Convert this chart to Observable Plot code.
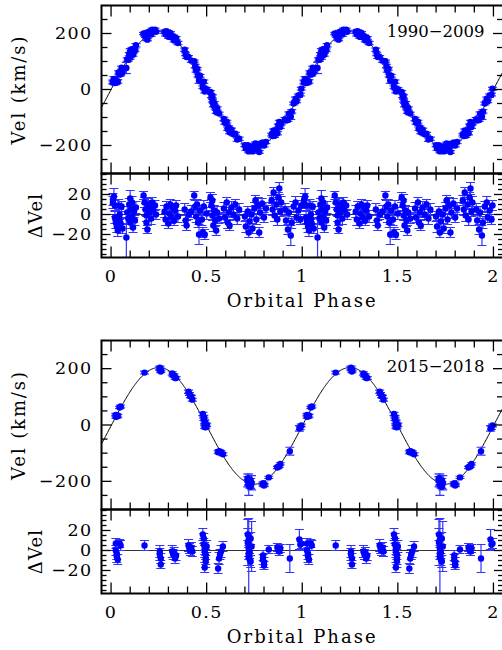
<!DOCTYPE html>
<html>
<head>
<meta charset="utf-8">
<script src="https://cdn.jsdelivr.net/npm/d3@7"></script>
<script src="https://cdn.jsdelivr.net/npm/@observablehq/plot@0.6"></script>
<style>
  html, body { margin: 0; padding: 0; background: #fff; overflow: hidden; width: 502px; height: 650px; }
  #fig { position: relative; width: 504px; height: 650px; }
  #fig svg { position: absolute; left: 0; overflow: visible !important; max-width: none !important; background: transparent !important; }
</style>
</head>
<body>
<div id="fig"></div>
<script>
// ---- 1990-2009 radial velocities: orbital phase, velocity (km/s), residual (km/s), error (km/s)
const phase90 = [
  0.010, 0.010, 0.015, 0.020, 0.020, 0.025, 0.030, 0.035, 0.040, 0.045, 0.045, 0.050, 0.055, 0.060,
  0.080, 0.085, 0.090, 0.095, 0.100, 0.100, 0.105, 0.110, 0.110, 0.115, 0.120, 0.125, 0.130,
  0.170, 0.175, 0.180, 0.185, 0.185, 0.190, 0.195, 0.200, 0.205, 0.210, 0.215, 0.220, 0.230, 0.235,
  0.280, 0.285, 0.290, 0.300, 0.305, 0.310, 0.315, 0.325, 0.330, 0.335, 0.340, 0.350,
  0.385, 0.390, 0.395, 0.405, 0.420, 0.435, 0.440, 0.445, 0.450, 0.455, 0.460, 0.465,
  0.475, 0.480, 0.485, 0.490, 0.500, 0.520, 0.525, 0.530, 0.530, 0.535, 0.540, 0.545, 0.550, 0.555, 0.565,
  0.590, 0.595, 0.605, 0.610, 0.615, 0.620, 0.630, 0.640, 0.650, 0.660, 0.670,
  0.700, 0.705, 0.715, 0.720, 0.725, 0.735, 0.740, 0.750, 0.755, 0.760, 0.770, 0.775, 0.780, 0.790, 0.800, 0.810,
  0.840, 0.845, 0.850, 0.855, 0.865, 0.870, 0.875, 0.880, 0.885, 0.890,
  0.910, 0.915, 0.925, 0.930, 0.940, 0.945, 0.955, 0.965, 0.970, 0.980, 0.990, 0.995
];
const vel90 = [
  28, 25, 38, 35, 23, 24, 27, 29, 61, 53, 58, 55, 78, 62,
  77, 107, 107, 126, 138, 114, 132, 130, 144, 124, 145, 140, 158,
  200, 196, 192, 189, 182, 178, 205, 199, 207, 196, 214, 207, 214, 206,
  206, 197, 208, 188, 196, 202, 187, 190, 175, 182, 184, 166,
  142, 126, 116, 116, 103, 101, 84, 68, 74, 50, 32, 49,
  27, 8, 28, -7, 1, -9, -23, -40, -25, -56, -48, -64, -80, -68, -86,
  -105, -119, -115, -140, -135, -153, -144, -160, -158, -179, -176,
  -199, -211, -199, -221, -212, -206, -221, -201, -193, -212, -196, -223, -201, -190, -200, -187,
  -161, -166, -146, -165, -145, -156, -129, -116, -134, -120,
  -106, -111, -109, -86, -97, -78, -50, -33, -42, -22, -18, 3
];
const dvel90 = [
  15, 12, 18, 9, -3, -8, -12, -16, 9, -5, 0, -9, 8, -14,
  -23, 2, -4, 10, 16, -8, 5, -2, 12, -13, 3, -6, 7,
  19, 12, 5, -1, -8, -15, 10, 2, 8, -4, 12, 4, 9, 0,
  3, -5, 8, -9, 1, 10, -3, 6, -6, 4, 9, -2,
  5, -6, -11, 0, 3, 19, 8, -2, 10, -8, -20, 4,
  -5, -18, 8, -20, 1, 17, 9, -1, 14, -11, 4, -6, -16, 2, -4,
  6, -3, 12, -8, 2, -11, 7, 0, 10, -4, 5,
  -2, -12, 3, -18, -7, 0, -14, 6, 14, -5, 9, -18, 2, 11, -3, 6,
  14, 5, 22, -1, 10, -5, 17, 26, 3, 12,
  5, -6, -15, 2, -21, -8, 8, 12, -3, 4, -5, 9
];
const err90 = [
  6, 6, 8, 5, 6, 6, 6, 6, 6, 5, 5, 6, 5, 5,
  20, 6, 6, 6, 8, 6, 6, 5, 6, 5, 6, 5, 6,
  4, 5, 6, 6, 6, 4, 6, 5, 6, 6, 5, 6, 5, 5,
  6, 6, 5, 5, 6, 5, 6, 5, 5, 6, 5, 6,
  6, 5, 5, 5, 6, 4, 6, 6, 5, 5, 10, 5,
  6, 5, 6, 5, 6, 5, 6, 5, 6, 6, 5, 6, 5, 6, 5,
  6, 5, 5, 6, 5, 5, 6, 5, 5, 6, 6,
  5, 6, 5, 5, 6, 5, 5, 6, 5, 5, 8, 5, 6, 5, 5, 6,
  5, 6, 5, 6, 5, 6, 5, 6, 5, 6,
  6, 5, 5, 6, 10, 6, 5, 6, 5, 6, 5, 5
];

// ---- 2015-2018 radial velocities
const phase15 = [
  0.025, 0.025, 0.030, 0.030, 0.035, 0.045, 0.050,
  0.175,
  0.255, 0.255, 0.260, 0.260,
  0.320, 0.325, 0.330, 0.335, 0.340,
  0.405, 0.410, 0.415, 0.420, 0.425,
  0.480, 0.485, 0.485, 0.490, 0.490, 0.490, 0.495, 0.495, 0.495, 0.500,
  0.560, 0.565, 0.570, 0.575, 0.585,
  0.715, 0.715, 0.720, 0.720, 0.720, 0.720, 0.725, 0.725, 0.730, 0.730, 0.735,
  0.795, 0.795, 0.800, 0.800, 0.825,
  0.870, 0.875, 0.880, 0.885,
  0.935, 0.985, 0.990, 0.995
];
const vel15 = [
  36, 29, 33, 30, 33, 62, 66,
  186,
  203, 200, 196, 190,
  183, 177, 176, 167, 167,
  118, 110, 102, 100, 90,
  39, 29, 22, 12, 9, -7, 0, -4, -8, 1,
  -97, -93, -95, -98, -104,
  -189, -197, -204, -209, -212, -195, -217, -210, -196, -219, -205,
  -207, -211, -212, -215, -186,
  -151, -148, -146, -138,
  -93, -12, -10, -2
];
const dvel15 = [
  7, 0, -3, -6, -9, 7, 5,
  5,
  -1, -4, -8, -14,
  -1, -4, -2, -8, -5,
  5, 2, 0, 3, -1,
  16, 12, 6, 2, -1, -17, -4, -8, -11, 4,
  -18, -8, -4, -1, 4,
  16, 8, 2, -3, -6, 11, -9, -2, 12, -11, 4,
  -5, -9, -12, -15, 1,
  3, 1, -1, 2,
  -8, 11, 6, 7
];
const err15 = [
  5, 5, 6, 6, 5, 4, 5,
  5,
  6, 6, 5, 4,
  6, 5, 5, 5, 5,
  6, 5, 5, 5, 5,
  6, 5, 6, 6, 6, 5, 5, 6, 6, 6,
  5, 6, 5, 6, 5,
  6, 23, 8, 6, 38, 6, 6, 6, 6, 6, 25,
  5, 5, 5, 4, 4,
  4, 4, 4, 4,
  14, 10, 6, 5
];

// Orbital fits (semi-amplitude and systemic velocity, km/s)
const fit90 = {K: 207, gamma: 0};
const fit15 = {K: 207, gamma: -3};

// Axis ticks
const phaseMajor = [0, 0.5, 1, 1.5, 2];
const phaseMinor = [0.1, 0.2, 0.3, 0.4, 0.6, 0.7, 0.8, 0.9, 1.1, 1.2, 1.3, 1.4, 1.6, 1.7, 1.8, 1.9];
const velMajor = [-200, 0, 200];
const velMinor = [-250, -150, -100, -50, 50, 100, 150, 250];
const dvMajor = [-20, 0, 20];
const dvMinor = [-40, -35, -30, -25, -15, -10, -5, 5, 10, 15, 25, 30, 35, 40];

// Each observation is shown twice: at its phase and one cycle later
function folded(ph, v, dv, e) {
  const one = ph.map((p, i) => ({phase: p, vel: v[i], dvel: dv[i], err: e[i]}));
  return one.concat(one.map(d => ({...d, phase: d.phase + 1})));
}
const obs90 = folded(phase90, vel90, dvel90, err90);
const obs15 = folded(phase15, vel15, dvel15, err15);

function fitCurve({K, gamma}) {
  return d3.range(-0.05, 2.0501, 0.004).map(p => ({phase: p, vel: gamma + K * Math.sin(2 * Math.PI * p)}));
}

// Short line-segment symbols (pixel units) for ticks and error-bar caps
const seg = (x1, y1, x2, y2) => ({draw(ctx) { ctx.moveTo(x1, y1); ctx.lineTo(x2, y2); }});
const cap = seg(-4.5, 0, 4.5, 0);
const BLUE = "#0000ff";
const BAR = "#3333ff";
const FONT = "DejaVu Serif";
const fmt = d => d < 0 ? "\u2212" + Math.abs(d) : String(d);

// Letter spacing per label (wide plotter-style lettering)
const spacing = {"Orbital Phase": "2.05px", "Vel (km/s)": "1.9px", "\u0394Vel": "1.2px", "1990\u22122009": "0px", "2015\u22122018": "0px"};
function spaceLabels(svg) {
  svg.querySelectorAll("text").forEach(t => {
    const s = spacing[t.textContent];
    if (s !== undefined) t.style.letterSpacing = s;
  });
  return svg;
}

function frameTicks(yMaj, yMin, yMajLen, yMinLen) {
  const st = {stroke: "black", strokeWidth: 1.3, fill: "none"};
  return [
    Plot.dot(phaseMajor, {x: d => d, frameAnchor: "bottom", symbol: seg(0, 0, 0, -11), ...st}),
    Plot.dot(phaseMajor, {x: d => d, frameAnchor: "top", symbol: seg(0, 0, 0, 11), ...st}),
    Plot.dot(phaseMinor, {x: d => d, frameAnchor: "bottom", symbol: seg(0, 0, 0, -7), ...st}),
    Plot.dot(phaseMinor, {x: d => d, frameAnchor: "top", symbol: seg(0, 0, 0, 7), ...st}),
    Plot.dot(yMaj, {y: d => d, frameAnchor: "left", symbol: seg(0, 0, yMajLen, 0), ...st}),
    Plot.dot(yMaj, {y: d => d, frameAnchor: "right", symbol: seg(0, 0, -yMajLen, 0), ...st}),
    Plot.dot(yMin, {y: d => d, frameAnchor: "left", symbol: seg(0, 0, yMinLen, 0), ...st}),
    Plot.dot(yMin, {y: d => d, frameAnchor: "right", symbol: seg(0, 0, -yMinLen, 0), ...st}),
    Plot.text(yMaj, {y: d => d, frameAnchor: "left", dx: -9, textAnchor: "end", lineAnchor: "middle", text: fmt, fontSize: 17.5}),
    Plot.frame({stroke: "black", strokeWidth: 2})
  ];
}

function observations(data, key) {
  return [
    Plot.ruleX(data, {x: "phase", y1: d => d[key] - d.err, y2: d => d[key] + d.err, stroke: BAR, strokeWidth: 1.2, clip: true}),
    Plot.dot(data, {x: "phase", y: d => d[key] + d.err, symbol: cap, stroke: BAR, strokeWidth: 1.2, fill: "none", clip: true}),
    Plot.dot(data, {x: "phase", y: d => d[key] - d.err, symbol: cap, stroke: BAR, strokeWidth: 1.2, fill: "none", clip: true}),
    Plot.dot(data, {x: "phase", y: key, r: 3.2, fill: BLUE, stroke: "none", clip: true})
  ];
}

const common = {
  width: 504, marginLeft: 101, marginRight: 1.5,
  x: {domain: [-0.05, 2.05], axis: null},
  style: {fontFamily: FONT, fontSize: "17.5px", letterSpacing: "1.4px", background: "transparent", overflow: "visible"}
};

function velPanel(top, frameH, marginTop, data, fit, tag) {
  const svg = Plot.plot({
    ...common,
    height: frameH + marginTop, marginTop, marginBottom: 0,
    y: {domain: [-300, 300], axis: null},
    marks: [
      Plot.line(fitCurve(fit), {x: "phase", y: "vel", stroke: "black", strokeWidth: 1, clip: true}),
      ...observations(data, "vel"),
      Plot.text([tag], {frameAnchor: "top-right", dx: -18.5, dy: 26, textAnchor: "end", lineAnchor: "middle", text: d => d, fontSize: 16.5}),
      Plot.text(["Vel (km/s)"], {frameAnchor: "left", dx: -82.5, rotate: -90, textAnchor: "middle", lineAnchor: "middle", text: d => d, fontSize: 18}),
      ...frameTicks(velMajor, velMinor, 10, 6)
    ]
  });
  svg.style.top = (top - marginTop) + "px";
  return spaceLabels(svg);
}

function residPanel(top, frameH, data) {
  const svg = Plot.plot({
    ...common,
    height: frameH + 60, marginTop: 0, marginBottom: 60,
    y: {domain: [-43, 41], axis: null},
    marks: [
      Plot.ruleY([0], {stroke: "#333", strokeWidth: 1}),
      ...observations(data, "dvel"),
      Plot.text(["\u0394Vel"], {frameAnchor: "left", dx: -65, rotate: -90, textAnchor: "middle", lineAnchor: "middle", text: d => d, fontSize: 18}),
      Plot.text(phaseMajor, {x: d => d, frameAnchor: "bottom", dy: 19, textAnchor: "middle", lineAnchor: "middle", text: d => String(d), fontSize: 17.5}),
      Plot.text(["Orbital Phase"], {frameAnchor: "bottom", dy: 44, textAnchor: "middle", lineAnchor: "middle", text: d => d, fontSize: 18}),
      ...frameTicks(dvMajor, dvMinor, 9, 5)
    ]
  });
  svg.style.top = top + "px";
  return spaceLabels(svg);
}

const fig = document.getElementById("fig");
fig.append(
  velPanel(5, 168, 5, obs90, fit90, "1990\u22122009"),
  residPanel(173, 84, obs90),
  velPanel(340, 169, 0, obs15, fit15, "2015\u22122018"),
  residPanel(509, 84, obs15)
);
</script>
</body>
</html>
